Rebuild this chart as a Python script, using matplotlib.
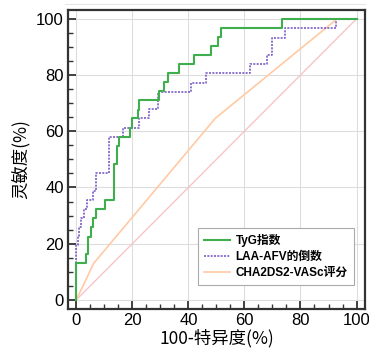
import numpy as np
import matplotlib
matplotlib.use('Agg')
import matplotlib.pyplot as plt
from matplotlib.ticker import MultipleLocator
from matplotlib.lines import Line2D

plt.rcParams['font.family'] = ['Liberation Sans', 'Noto Sans CJK SC', 'DejaVu Sans']

# ROC step points (x where the jump happens, new sensitivity level)
tyg_fpr = [0, 0, 3.6, 4.0, 5.2, 6.0, 7.0, 10.4, 13.3, 14.5, 15.3, 19.3, 20.0,
           22.0, 22.5, 29.4, 31.2, 32.6, 36.5, 41.9, 47.9, 50.6, 51.5, 73.5, 100]
tyg_tpr = [0, 13.0, 16.2, 22.5, 25.9, 29.0, 32.3, 35.6, 48.4, 54.8, 58.1, 61.2, 64.6,
           67.7, 71.0, 74.2, 77.4, 80.6, 83.9, 87.1, 90.3, 93.5, 96.8, 100, 100]

laa_fpr = [0, 0, 0.5, 1.1, 1.7, 2.6, 3.8, 5.8, 7.1, 11.5, 16.7, 22.5, 25.8,
           29.2, 41.1, 46.4, 62.1, 68.1, 69.9, 74.6, 92.5, 100]
laa_tpr = [0, 19.6, 22.8, 25.9, 29.0, 32.3, 35.6, 38.9, 45.3, 58.1, 61.3, 64.6, 67.9,
           74.1, 77.3, 80.7, 83.9, 87.0, 93.3, 96.7, 100, 100]

cha_fpr = [0, 6.2, 49.6, 93.1, 100]
cha_tpr = [0, 13.0, 64.6, 100, 100]

labels = ['TyG指数', 'LAA-AFV的倒数', 'CHA2DS2-VASc评分']

fig = plt.figure(figsize=(3.69, 3.51), dpi=100)
ax = fig.add_axes([0.184, 0.12, 0.805, 0.852])

# faint line above the frame
fig.add_artist(Line2D([0.176, 0.99], [0.988, 0.988], color='#e6e6e6', lw=0.8))

ax.plot([0, 100], [0, 100], color='#f9c4c8', lw=1.0, zorder=1)
ax.plot(cha_fpr, cha_tpr, color='#ffcaa4', lw=1.2, label=labels[2], zorder=2)
ax.plot(laa_fpr, laa_tpr, color='#7b5cc6', lw=1.2, ls=(0, (1.2, 0.8)),
        drawstyle='steps-post', label=labels[1], zorder=3)
ax.plot(tyg_fpr, tyg_tpr, color='#3fae4c', lw=1.5,
        drawstyle='steps-post', label=labels[0], zorder=4)

ax.set_xlim(-3, 103)
ax.set_ylim(-3.2, 103.2)
ax.xaxis.set_major_locator(MultipleLocator(20))
ax.yaxis.set_major_locator(MultipleLocator(20))
ax.xaxis.set_minor_locator(MultipleLocator(5))
ax.yaxis.set_minor_locator(MultipleLocator(5))
ax.tick_params(which='both', direction='in', top=False, right=False,
               color='#333333', labelsize=12, pad=3)
ax.tick_params(which='major', length=6, width=1.3)
ax.tick_params(which='minor', length=3.5, width=1.0)
ax.grid(True, which='major', color='#dddddd', lw=0.8)
ax.set_axisbelow(True)
for s in ax.spines.values():
    s.set_linewidth(1.6)
    s.set_color('#333333')

cjk = ['Noto Sans CJK SC', 'DejaVu Sans']
ax.set_xlabel('100-特异度(%)', fontsize=12.5, labelpad=1, family=cjk)
ax.set_ylabel('灵敏度(%)', fontsize=12.5, labelpad=4, family=cjk)

handles, labs = ax.get_legend_handles_labels()
order = [2, 1, 0]
leg = ax.legend([handles[i] for i in order], [labs[i] for i in order],
                loc='lower right', bbox_to_anchor=(0.97, 0.072),
                fancybox=False, framealpha=1, edgecolor='#aaaaaa',
                prop={'size': 8.5, 'weight': 'bold'}, handlelength=2.2,
                handletextpad=0.5, borderpad=0.5, labelspacing=0.35,
                borderaxespad=0.2)
leg.get_frame().set_linewidth(0.8)

fig.savefig('out.png', dpi=100)
